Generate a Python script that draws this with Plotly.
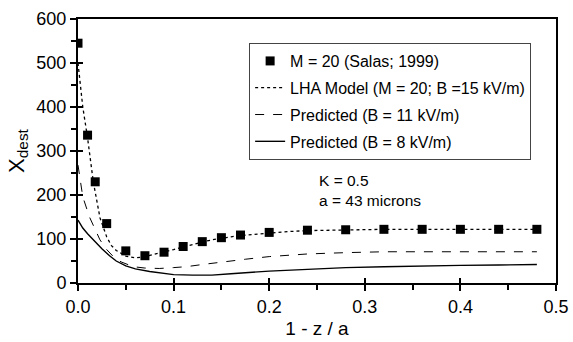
import plotly.graph_objects as go

# Measured points (Salas 1999)
m_x = [0, 0.01, 0.018, 0.03, 0.05, 0.07, 0.09, 0.11, 0.13, 0.15, 0.17, 0.2, 0.24, 0.28, 0.32, 0.36, 0.40, 0.44, 0.48]
m_y = [545, 336, 230, 135, 73, 62, 70, 83, 94, 103, 109, 115, 120, 121, 122, 122, 122, 122, 122]

# LHA model (dotted)
lha_x = [0, 0.005, 0.01, 0.016, 0.023, 0.03, 0.035, 0.04, 0.05, 0.06, 0.07, 0.08, 0.09, 0.1, 0.11, 0.12,
         0.13, 0.14, 0.15, 0.16, 0.17, 0.185, 0.2, 0.22, 0.24, 0.26, 0.28, 0.32, 0.36, 0.4, 0.44, 0.48]
lha_y = [500, 400, 330, 230, 148, 105, 85, 74, 61, 57, 60, 65, 70, 76, 82, 88,
         93, 98, 102, 105, 108, 111, 114, 117, 119, 120, 121, 122, 122, 122, 122, 122]

# Predicted B = 11 kV/m (dashed)
p11_x = [0, 0.005, 0.012, 0.023, 0.03, 0.037, 0.045, 0.058, 0.07, 0.085, 0.1, 0.113, 0.13, 0.15, 0.175,
         0.2, 0.24, 0.28, 0.32, 0.36, 0.4, 0.44, 0.48]
p11_y = [268, 196, 150, 98, 76, 60, 48, 37, 34, 33, 35, 37, 42, 48, 54,
         60, 66, 69, 71, 71, 71, 71, 71]

# Predicted B = 8 kV/m (solid)
p8_x = [0, 0.005, 0.01, 0.016, 0.025, 0.033, 0.04, 0.05, 0.06, 0.075, 0.09, 0.1, 0.12, 0.14, 0.16,
        0.18, 0.2, 0.24, 0.28, 0.32, 0.36, 0.4, 0.44, 0.48]
p8_y = [143, 125, 112, 98, 78, 62, 50, 39, 32, 26, 21, 19, 18, 18, 21,
        24, 27, 31, 35, 37, 39, 40, 41, 42]

FONT = "Arial, Liberation Sans, sans-serif"

fig = go.Figure()
fig.add_trace(go.Scatter(x=m_x, y=m_y, mode="markers", name="M = 20 (Salas; 1999)",
                         marker=dict(symbol="square", size=9, color="black"), legendgroup="a"))
fig.add_trace(go.Scatter(x=lha_x, y=lha_y, mode="lines", name="LHA Model (M = 20; B =15 kV/m)",
                         line=dict(color="black", width=1.3, dash="dot"), legendgroup="b"))
fig.add_trace(go.Scatter(x=p11_x, y=p11_y, mode="lines", name="Predicted (B = 11 kV/m)",
                         line=dict(color="black", width=1, dash="dash"), legendgroup="c"))
fig.add_trace(go.Scatter(x=p8_x, y=p8_y, mode="lines", name="Predicted (B = 8 kV/m)",
                         line=dict(color="black", width=1.4), legendgroup="d"))
# invisible trace to activate overlay axes (inner half of crossing ticks)
fig.add_trace(go.Scatter(x=m_x, y=m_y, mode="markers", opacity=0, showlegend=False,
                         hoverinfo="skip", xaxis="x2", yaxis="y2"))

axis_common = dict(showgrid=False, zeroline=False, linecolor="black", linewidth=2,
                   ticks="outside", ticklen=6, tickwidth=1.5, tickcolor="black", automargin=False,
                   tickfont=dict(size=18, color="black", family=FONT))

fig.update_layout(
    width=573, height=342,
    margin=dict(l=78, r=17, t=19, b=59),
    paper_bgcolor="white", plot_bgcolor="white",
    font=dict(family=FONT, color="black"),
    xaxis=dict(range=[0, 0.5], dtick=0.1, tickformat=".1f", mirror=True,
               minor=dict(dtick=0.05, ticks="outside", ticklen=5, tickwidth=1.5, tickcolor="black"),
               title=dict(text="1 - z / a", font=dict(size=19, family=FONT), standoff=6),
               **axis_common),
    yaxis=dict(range=[0, 600], dtick=100, mirror=True,
               minor=dict(dtick=50, ticks="outside", ticklen=5, tickwidth=1.5, tickcolor="black"),
               title=dict(text="X<sub>dest</sub>", font=dict(size=22, family=FONT), standoff=6),
               **axis_common),
    xaxis2=dict(overlaying="x", anchor="y", range=[0, 0.5], dtick=0.1, ticks="inside",
                ticklen=5, tickwidth=1.5, tickcolor="black", showticklabels=False,
                showgrid=False, zeroline=False, showline=False),
    yaxis2=dict(overlaying="y", anchor="x", range=[0, 600], dtick=100, ticks="inside",
                ticklen=5, tickwidth=1.5, tickcolor="black", showticklabels=False,
                showgrid=False, zeroline=False, showline=False),
    legend=dict(x=0.358, y=0.909, xanchor="left", yanchor="top",
                bordercolor="#444", borderwidth=1, bgcolor="white",
                font=dict(size=16, family=FONT, color="black"),
                traceorder="grouped", tracegroupgap=3, itemwidth=30),
    showlegend=True,
)

fig.add_annotation(x=0.5, y=0.35, xref="paper", yref="paper", xanchor="left", yanchor="middle",
                   align="left", showarrow=False, text="K = 0.5<br>a = 43 microns",
                   font=dict(size=15.5, family=FONT, color="black"))

fig.write_html("out.html")
